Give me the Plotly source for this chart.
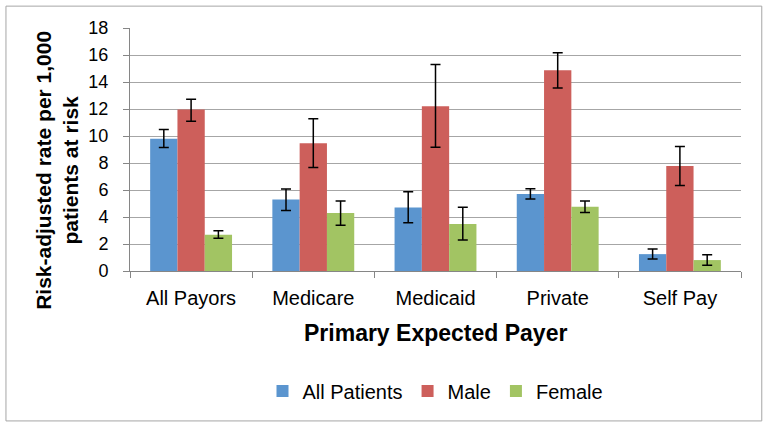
import plotly.graph_objects as go

categories = ["All Payors", "Medicare", "Medicaid", "Private", "Self Pay"]
series_names = ["All Patients", "Male", "Female"]
all_vals = [9.8, 5.3, 4.7, 5.7, 1.25]
all_hi = [10.48, 6.07, 5.87, 6.09, 1.63]
all_lo = [9.15, 4.49, 3.57, 5.33, 0.89]
male_vals = [11.96, 9.47, 12.2, 14.87, 7.77]
male_hi = [12.72, 11.27, 15.29, 16.17, 9.22]
male_lo = [11.09, 7.67, 9.17, 13.56, 6.34]
fem_vals = [2.68, 4.29, 3.48, 4.76, 0.81]
fem_hi = [2.98, 5.18, 4.73, 5.18, 1.21]
fem_lo = [2.42, 3.38, 2.29, 4.34, 0.42]
colors = ["#5B95CF", "#CD5F5B", "#A2C463"]
y_ticks = list(range(0, 19, 2))
x_title = "Primary Expected Payer"
y_title = "Risk-adjusted rate per 1,000<br>patients at risk"

fig = go.Figure()
for name, vals, hi, lo, col in zip(series_names, [all_vals, male_vals, fem_vals],
                                   [all_hi, male_hi, fem_hi], [all_lo, male_lo, fem_lo], colors):
    fig.add_trace(go.Bar(
        x=categories, y=vals, name=name, marker=dict(color=col, line=dict(width=0)),
        error_y=dict(type="data", symmetric=False,
                     array=[h - v for h, v in zip(hi, vals)],
                     arrayminus=[v - l for v, l in zip(vals, lo)],
                     color="black", thickness=1.5, width=5),
    ))

fig.update_layout(
    width=770, height=428,
    paper_bgcolor="white", plot_bgcolor="white",
    barmode="group", bargap=0.33, bargroupgap=0,
    margin=dict(l=130, r=29, t=28, b=157),
    font=dict(family="Liberation Sans, Arial, sans-serif", size=20, color="black"),
    legend=dict(orientation="h", x=0.5, xanchor="center", y=-0.494, yanchor="middle",
                font=dict(size=20), itemwidth=30, traceorder="normal"),
    showlegend=True,
    shapes=[dict(type="rect", xref="paper", yref="paper", x0=-0.203, x1=1.034, y0=-0.617, y1=1.09,
                 line=dict(color="#A6A6A6", width=1), fillcolor="rgba(0,0,0,0)", layer="above")],
    annotations=[
        dict(text="<b>" + x_title + "</b>", xref="paper", yref="paper", x=0.5, y=-0.255,
             xanchor="center", yanchor="middle", showarrow=False, font=dict(size=23)),
        dict(text="<b>" + y_title + "</b>", xref="paper", yref="paper", x=-0.12, y=0.415,
             xanchor="center", yanchor="middle", showarrow=False, textangle=-90,
             align="center", font=dict(size=21)),
    ],
)
fig.update_xaxes(
    showline=True, linecolor="#868686", linewidth=1,
    ticks="outside", tickcolor="#868686", ticklen=6, tickson="boundaries",
    tickfont=dict(size=20), ticklabelstandoff=9,
)
fig.update_yaxes(
    range=[0, 18], tickvals=y_ticks, showline=True, linecolor="#868686", linewidth=1,
    ticks="outside", tickcolor="#868686", ticklen=6, ticklabelstandoff=11,
    gridcolor="#A6A6A6", gridwidth=1, zeroline=False,
    tickfont=dict(size=18),
)

fig.write_html("out.html", config={"displayModeBar": False},
               post_script="document.body.style.margin='0';document.body.style.overflow='hidden';")
